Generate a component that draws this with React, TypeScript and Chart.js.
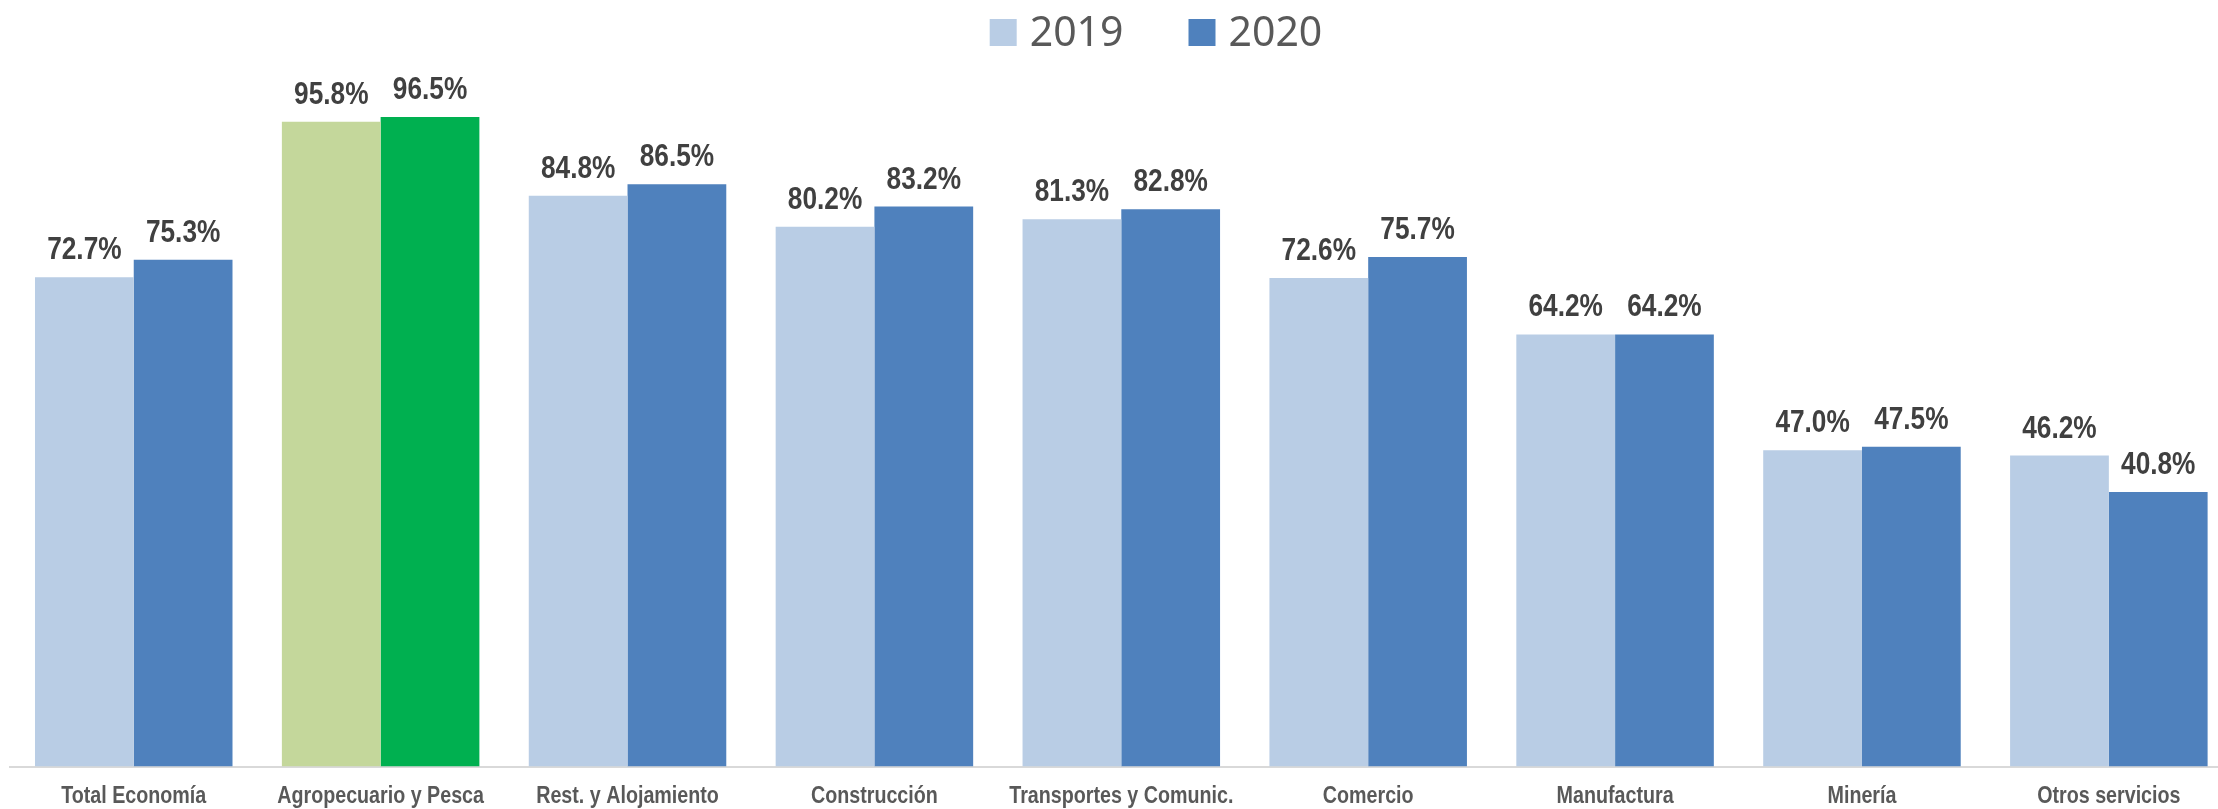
import React, { useEffect, useRef } from "react";
import { Chart, registerables } from "chart.js";

Chart.register(...registerables);

const categories = [
  "Total Economía",
  "Agropecuario y Pesca",
  "Rest. y Alojamiento",
  "Construcción",
  "Transportes y Comunic.",
  "Comercio",
  "Manufactura",
  "Minería",
  "Otros servicios",
];
const series2019 = [72.7, 95.8, 84.8, 80.2, 81.3, 72.6, 64.2, 47.0, 46.2];
const series2020 = [75.3, 96.5, 86.5, 83.2, 82.8, 75.7, 64.2, 47.5, 40.8];
const seriesNames = ["2019", "2020"];
const colors2019 = ["#B9CDE5", "#C4D79B", "#B9CDE5", "#B9CDE5", "#B9CDE5", "#B9CDE5", "#B9CDE5", "#B9CDE5", "#B9CDE5"];
const colors2020 = ["#4F81BD", "#00B050", "#4F81BD", "#4F81BD", "#4F81BD", "#4F81BD", "#4F81BD", "#4F81BD", "#4F81BD"];
const legendColors = ["#B9CDE5", "#4F81BD"];

const SANS = "'Liberation Sans', Arial, sans-serif";
const NARROW_SCALE = 0.82;

const CW = 2240;
const CH = 809;

function drawNarrow(ctx: any, text: string, x: number, y: number) {
  ctx.save();
  ctx.translate(x, y);
  ctx.scale(NARROW_SCALE, 1);
  ctx.fillText(text, 0, 0);
  ctx.restore();
}

const dataLabelPlugin = {
  id: "dataLabels",
  afterDatasetsDraw(chart: any) {
    const ctx = chart.ctx;
    ctx.save();
    ctx.font = `bold 32px ${SANS}`;
    ctx.fillStyle = "#404040";
    ctx.textAlign = "center";
    ctx.textBaseline = "alphabetic";
    chart.data.datasets.forEach((ds: any, i: number) => {
      const meta = chart.getDatasetMeta(i);
      meta.data.forEach((bar: any, j: number) => {
        const v = ds.data[j] as number;
        drawNarrow(ctx, `${v.toFixed(1)}%`, bar.x, bar.y - 18);
      });
    });
    ctx.restore();
  },
};

const tickLabelPlugin = {
  id: "tickLabels",
  afterDraw(chart: any) {
    const ctx = chart.ctx;
    const xs = chart.scales.x;
    ctx.save();
    ctx.font = `bold 24px ${SANS}`;
    ctx.fillStyle = "#595959";
    ctx.textAlign = "center";
    ctx.textBaseline = "alphabetic";
    const labels = chart.data.labels as string[];
    labels.forEach((l, i) => {
      drawNarrow(ctx, l, xs.getPixelForTick(i), xs.bottom - 6);
    });
    ctx.restore();
  },
};

const legendPlugin = {
  id: "customLegend",
  afterDraw(chart: any) {
    const ctx = chart.ctx;
    ctx.save();
    ctx.font = `41px 'Noto Sans', 'Open Sans', sans-serif`;
    const box = 27;
    const gapText = 13;
    const gapItem = 65;
    const widths = seriesNames.map((n) => ctx.measureText(n).width);
    const total = widths.reduce((a, w) => a + box + gapText + w, 0) + gapItem * (seriesNames.length - 1);
    let x = 1156 - total / 2;
    const baseline = 45.7;
    seriesNames.forEach((n, i) => {
      ctx.fillStyle = legendColors[i];
      ctx.fillRect(x, 19, box, box);
      x += box + gapText;
      ctx.fillStyle = "#595959";
      ctx.textAlign = "left";
      ctx.textBaseline = "alphabetic";
      ctx.fillText(n, x, baseline);
      x += widths[i] + gapItem;
    });
    ctx.restore();
  },
};

export default function App() {
  const ref = useRef<HTMLCanvasElement | null>(null);
  useEffect(() => {
    if (!ref.current) return;
    const chart = new Chart(ref.current, {
      type: "bar",
      data: {
        labels: categories,
        datasets: [
          {
            label: seriesNames[0],
            data: series2019,
            backgroundColor: colors2019,
            categoryPercentage: 0.8,
            barPercentage: 1.0,
          },
          {
            label: seriesNames[1],
            data: series2020,
            backgroundColor: colors2020,
            categoryPercentage: 0.8,
            barPercentage: 1.0,
          },
        ],
      },
      options: {
        responsive: false,
        animation: false,
        devicePixelRatio: 1,
        layout: { padding: { left: 10.3, right: CW - 2232.3, top: 93.5, bottom: 0 } },
        plugins: {
          legend: { display: false },
          tooltip: { enabled: false },
        },
        scales: {
          x: {
            grid: { display: false, drawTicks: false },
            border: { display: true, color: "#D9D9D9", width: 2 },
            ticks: { display: false },
            afterFit: (scale: any) => {
              scale.height = CH - 766.5;
            },
          },
          y: {
            display: false,
            min: 0,
            max: 100,
          },
        },
      },
      plugins: [dataLabelPlugin, tickLabelPlugin, legendPlugin],
    } as any);
    return () => chart.destroy();
  }, []);
  return (
    <div
      style={{
        position: "fixed",
        left: 0,
        top: 0,
        width: 2218,
        height: 809,
        overflow: "hidden",
        background: "#ffffff",
      }}
    >
      <canvas ref={ref} width={CW} height={CH} style={{ display: "block", width: CW, height: CH }} />
    </div>
  );
}
